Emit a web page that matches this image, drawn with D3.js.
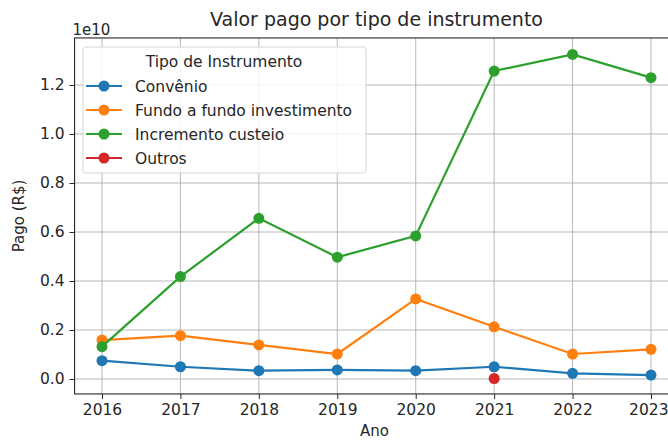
<!DOCTYPE html>
<html>
<head>
<meta charset="utf-8">
<script src="https://cdn.jsdelivr.net/npm/d3@7/dist/d3.min.js"></script>
<style>
  html, body { margin: 0; padding: 0; background: #fff; overflow: hidden; }
  svg { display: block; font-family: "DejaVu Sans", sans-serif; }
</style>
</head>
<body>
<div id="chart"></div>
<script>
// values are in units of 1e10 R$
var years = [2016, 2017, 2018, 2019, 2020, 2021, 2022, 2023];
var convenio   = [0.075, 0.050, 0.034, 0.037, 0.034, 0.050, 0.023, 0.016];
var fundo      = [0.159, 0.177, 0.139, 0.102, 0.327, 0.213, 0.102, 0.121];
var incremento = [0.132, 0.418, 0.656, 0.497, 0.584, 1.257, 1.325, 1.230];
var outrosYears = [2021];
var outros      = [0.002];
var yTicks = [0.0, 0.2, 0.4, 0.6, 0.8, 1.0, 1.2];

var seriesNames  = ["Convênio", "Fundo a fundo investimento", "Incremento custeio", "Outros"];
var seriesColors = ["#1f77b4", "#ff7f0e", "#2ca02c", "#d62728"];

(function () {
  var W = 668, H = 441;
  var svg = d3.select("#chart").append("svg").attr("width", W).attr("height", H);

  // matplotlib-like 5% margins around the data
  var x = d3.scaleLinear().domain([2016, 2023]).range([102, 651]);
  var y = d3.scaleLinear().domain([0, 1]).range([379, 134]);
  var xL = x(2015.65), xR = x(2023.35);
  var yT = y(1.392), yB = y(-0.061);

  // grid
  var grid = svg.append("g");
  grid.selectAll("line.gx").data(years).join("line")
    .attr("x1", function (d) { return x(d); }).attr("x2", function (d) { return x(d); })
    .attr("y1", yT).attr("y2", yB)
    .attr("stroke", "#b0b0b0").attr("stroke-width", 0.9);
  grid.selectAll("line.gy").data(yTicks).join("line")
    .attr("x1", xL).attr("x2", xR)
    .attr("y1", function (d) { return y(d); }).attr("y2", function (d) { return y(d); })
    .attr("stroke", "#b0b0b0").attr("stroke-width", 0.9);

  // axes
  var xAxis = svg.append("g").attr("transform", "translate(0," + yB + ")")
    .call(d3.axisBottom(x).tickValues(years).tickFormat(d3.format("d")).tickSize(5).tickPadding(5));
  var yAxis = svg.append("g").attr("transform", "translate(" + xL + ",0)")
    .call(d3.axisLeft(y).tickValues(yTicks).tickFormat(d3.format(".1f")).tickSize(5).tickPadding(5));
  [xAxis, yAxis].forEach(function (a) {
    a.select(".domain").remove();
    a.selectAll("text").attr("font-size", 15.5).attr("fill", "#262626").attr("font-family", "DejaVu Sans");
    a.selectAll("line").attr("stroke", "#262626");
  });
  // last year label sits against the right edge of the page
  xAxis.selectAll(".tick").filter(function (d) { return d === 2023; })
    .select("text").attr("text-anchor", "end").attr("x", W - x(2023));

  // spines
  svg.append("rect").attr("x", xL).attr("y", yT)
    .attr("width", xR - xL).attr("height", yB - yT)
    .attr("fill", "none").attr("stroke", "#262626").attr("stroke-width", 1.1);

  // lines
  var line = d3.line().x(function (d) { return x(d[0]); }).y(function (d) { return y(d[1]); });
  var data = [
    d3.zip(years, convenio),
    d3.zip(years, fundo),
    d3.zip(years, incremento),
    d3.zip(outrosYears, outros)
  ];
  data.forEach(function (pts, i) {
    var g = svg.append("g");
    g.append("path").datum(pts).attr("d", line)
      .attr("fill", "none").attr("stroke", seriesColors[i]).attr("stroke-width", 2.2);
    g.selectAll("circle").data(pts).join("circle")
      .attr("cx", function (d) { return x(d[0]); }).attr("cy", function (d) { return y(d[1]); })
      .attr("r", 5.5).attr("fill", seriesColors[i]);
  });

  // title, labels
  svg.append("text").attr("x", (xL + xR) / 2).attr("y", 26)
    .attr("text-anchor", "middle").attr("font-size", 19).attr("fill", "#262626")
    .text("Valor pago por tipo de instrumento");
  svg.append("text").attr("x", xL - 2).attr("y", 35)
    .attr("font-size", 15).attr("fill", "#262626").text("1e10");
  svg.append("text").attr("transform", "translate(24," + ((yT + yB) / 2) + ") rotate(-90)")
    .attr("text-anchor", "middle").attr("font-size", 15).attr("fill", "#262626").text("Pago (R$)");
  svg.append("text").attr("x", (xL + xR) / 2 - 2).attr("y", 436)
    .attr("text-anchor", "middle").attr("font-size", 15).attr("fill", "#262626").text("Ano");

  // legend
  var lg = svg.append("g");
  lg.append("rect").attr("x", 83).attr("y", 47).attr("width", 283).attr("height", 126)
    .attr("rx", 3).attr("fill", "#fff").attr("fill-opacity", 0.85)
    .attr("stroke", "#d6d6d6").attr("stroke-width", 1);
  lg.append("text").attr("x", 224).attr("y", 67).attr("text-anchor", "middle")
    .attr("font-size", 15.5).attr("fill", "#262626").text("Tipo de Instrumento");
  seriesNames.forEach(function (name, i) {
    var cy = 86 + i * 24;
    lg.append("line").attr("x1", 86).attr("x2", 122).attr("y1", cy).attr("y2", cy)
      .attr("stroke", seriesColors[i]).attr("stroke-width", 2.2);
    lg.append("circle").attr("cx", 104).attr("cy", cy).attr("r", 5.5).attr("fill", seriesColors[i]);
    lg.append("text").attr("x", 135).attr("y", cy + 5.5).attr("font-size", 15.5)
      .attr("fill", "#262626").text(name);
  });
})();
</script>
</body>
</html>
